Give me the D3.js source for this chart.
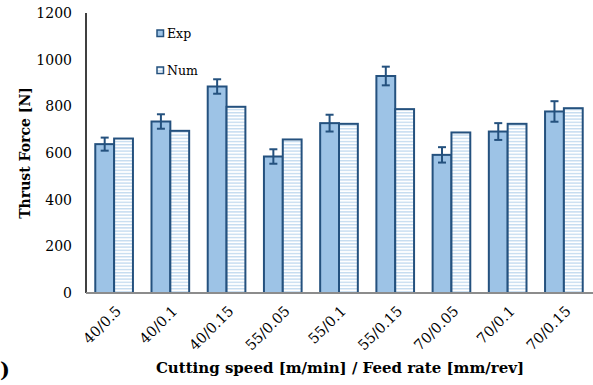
<!DOCTYPE html>
<html lang="en">
<head>
    <meta charset="UTF-8">
    <title>Thrust Force</title>
    <script src="https://d3js.org/d3.v7.min.js"></script>
    <style>
        * { margin: 0; padding: 0; }
        body { background: #fff; width: 593px; height: 385px; overflow: hidden; }
        svg text { font-family: "DejaVu Serif", serif; fill: #000; }
    </style>
</head>
<body>
    <div id="chart"></div>

    <script>
        // Data
        const categories = ["40/0.5", "40/0.1", "40/0.15", "55/0.05", "55/0.1", "55/0.15", "70/0.05", "70/0.1", "70/0.15"];
        const expValues = [638, 735, 885, 585, 728, 930, 592, 692, 778];
        const expErrors = [28, 31, 31, 31, 36, 40, 33, 36, 44];
        const numValues = [662, 695, 798, 658, 725, 788, 688, 725, 792];
        const yTicks = [0, 200, 400, 600, 800, 1000, 1200];

        const width = 593, height = 385;
        const margin = { left: 86, right: 1, top: 13, bottom: 93 };

        const svg = d3.select("#chart").append("svg")
            .attr("width", width)
            .attr("height", height);

        // striped pattern for the numerical series
        const defs = svg.append("defs");
        const pat = defs.append("pattern")
            .attr("id", "stripes")
            .attr("patternUnits", "userSpaceOnUse")
            .attr("width", 6)
            .attr("height", 3.2);
        pat.append("rect").attr("width", 6).attr("height", 3.2).attr("fill", "#fff");
        pat.append("rect").attr("y", 0).attr("width", 6).attr("height", 1.4).attr("fill", "#c5dcf0");

        const x = d3.scaleBand()
            .domain(categories)
            .range([margin.left, width - margin.right])
            .paddingInner(0.33)
            .paddingOuter(0.165);

        const sub = d3.scaleBand()
            .domain(["exp", "num"])
            .range([0, x.bandwidth()]);

        const y = d3.scaleLinear()
            .domain([0, 1200])
            .range([height - margin.bottom + 1, margin.top]);

        const stroke = "#24517e";

        // y tick labels
        svg.append("g")
            .selectAll("text")
            .data(yTicks)
            .join("text")
            .attr("x", 72)
            .attr("y", d => y(d) + 5)
            .attr("text-anchor", "end")
            .style("font-size", "14px")
            .text(d => d);

        // bars
        const groups = svg.append("g")
            .selectAll("g")
            .data(categories)
            .join("g")
            .attr("transform", d => `translate(${x(d)},0)`);

        groups.append("rect")
            .attr("x", sub("exp"))
            .attr("y", (d, i) => y(expValues[i]))
            .attr("width", sub.bandwidth())
            .attr("height", (d, i) => y(0) - y(expValues[i]))
            .attr("fill", "#9dc3e6")
            .attr("stroke", stroke)
            .attr("stroke-width", 2);

        groups.append("rect")
            .attr("x", sub("num"))
            .attr("y", (d, i) => y(numValues[i]))
            .attr("width", sub.bandwidth())
            .attr("height", (d, i) => y(0) - y(numValues[i]))
            .attr("fill", "url(#stripes)")
            .attr("stroke", stroke)
            .attr("stroke-width", 2);

        // error bars
        const cx = sub("exp") + sub.bandwidth() / 2;
        groups.append("line")
            .attr("x1", cx).attr("x2", cx)
            .attr("y1", (d, i) => y(expValues[i] + expErrors[i]))
            .attr("y2", (d, i) => y(expValues[i] - expErrors[i]))
            .attr("stroke", stroke).attr("stroke-width", 2);
        [1, -1].forEach(s => {
            groups.append("line")
                .attr("x1", cx - 4).attr("x2", cx + 4)
                .attr("y1", (d, i) => y(expValues[i] + s * expErrors[i]))
                .attr("y2", (d, i) => y(expValues[i] + s * expErrors[i]))
                .attr("stroke", stroke).attr("stroke-width", 2);
        });

        // axes lines
        svg.append("line")
            .attr("x1", margin.left).attr("x2", margin.left)
            .attr("y1", margin.top).attr("y2", y(0))
            .attr("stroke", "#000").attr("stroke-width", 1.5);
        svg.append("line")
            .attr("x1", margin.left).attr("x2", width)
            .attr("y1", y(0)).attr("y2", y(0))
            .attr("stroke", "#8c8c8c").attr("stroke-width", 2);

        // x tick labels, rotated
        svg.append("g")
            .selectAll("text")
            .data(categories)
            .join("text")
            .attr("transform", d => `translate(${x(d) + x.bandwidth() / 2 + 8},${y(0) + 19}) rotate(-45)`)
            .attr("text-anchor", "end")
            .style("font-size", "14.5px")
            .text(d => d);

        // axis titles
        svg.append("text")
            .attr("transform", `translate(30,${(margin.top + y(0)) / 2}) rotate(-90)`)
            .attr("text-anchor", "middle")
            .style("font-size", "14px")
            .style("font-weight", "bold")
            .text("Thrust Force [N]");

        svg.append("text")
            .attr("x", 340)
            .attr("y", 373)
            .attr("text-anchor", "middle")
            .style("font-size", "15px")
            .style("font-weight", "bold")
            .text("Cutting speed [m/min] / Feed rate [mm/rev]");

        // legend
        const legend = [["Exp", "#9dc3e6"], ["Num", "url(#stripes)"]];
        const lg = svg.append("g")
            .selectAll("g")
            .data(legend)
            .join("g")
            .attr("transform", (d, i) => `translate(157,${30 + i * 37})`);
        lg.append("rect")
            .attr("width", 6.5).attr("height", 6.5)
            .attr("fill", d => d[1])
            .attr("stroke", stroke).attr("stroke-width", 1.5);
        lg.append("text")
            .attr("x", 10).attr("y", 8)
            .style("font-size", "12.5px")
            .text(d => d[0]);

        // panel label remnant at the left edge
        svg.append("text")
            .attr("x", 0).attr("y", 377)
            .style("font-size", "21px")
            .style("font-weight", "bold")
            .text(")");
    </script>
</body>
</html>
